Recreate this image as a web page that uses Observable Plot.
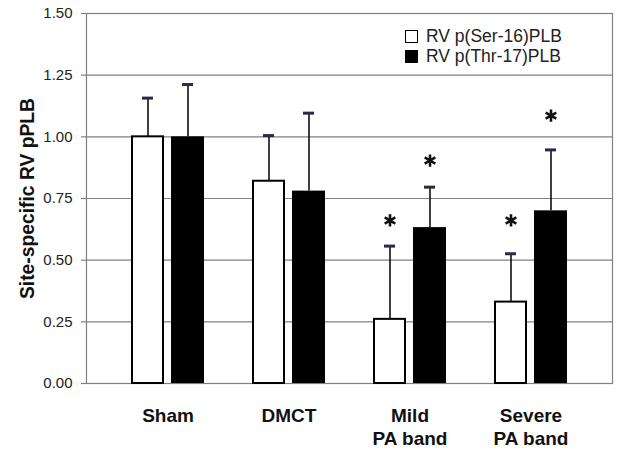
<!DOCTYPE html>
<html>
<head>
<meta charset="utf-8">
<script src="https://cdn.jsdelivr.net/npm/d3@7"></script>
<script src="https://cdn.jsdelivr.net/npm/@observablehq/plot@0.6"></script>
<style>
  body { margin: 0; background: #fff; }
  #wrap { position: relative; width: 633px; height: 453px; font-family: Arial, "Liberation Sans", sans-serif; }
  #legend { position: absolute; left: 405px; top: 26px; font-size: 17.5px; color: #222; line-height: 20px; }
  #legend .row { display: flex; align-items: center; height: 20px; }
  #legend .sw { width: 11px; height: 11px; border: 1.5px solid #000; margin-right: 8px; box-sizing: content-box; }
</style>
</head>
<body>
<div id="wrap"><div id="legend"></div></div>
<script>
const groups = ["Sham", "DMCT", "Mild\nPA band", "Severe\nPA band"];
const seriesNames = ["RV p(Ser-16)PLB", "RV p(Thr-17)PLB"];
const ser16 = [1.00, 0.82, 0.26, 0.33];
const ser16Upper = [1.157, 1.005, 0.557, 0.526];
const thr17 = [1.00, 0.78, 0.632, 0.70];
const thr17Upper = [1.212, 1.096, 0.796, 0.947];
const ser16Star = [null, null, 0.661, 0.661];
const thr17Star = [null, null, 0.904, 1.086];
const yTicks = [0, 0.25, 0.5, 0.75, 1.0, 1.25, 1.5];

const ser = groups.map((g, i) => ({group: g, value: ser16[i], upper: ser16Upper[i], star: ser16Star[i]}));
const thr = groups.map((g, i) => ({group: g, value: thr17[i], upper: thr17Upper[i], star: thr17Star[i]}));

const font = 'Arial, "Liberation Sans", sans-serif';
const capColor = "#2e2846";
const gridColor = "#808080";

const chart = Plot.plot({
  width: 633,
  height: 453,
  marginTop: 13,
  marginBottom: 70,
  marginLeft: 86,
  marginRight: 21,
  style: {fontFamily: font, background: "#fff", overflow: "visible"},
  x: {domain: groups, paddingInner: 0.343, paddingOuter: 0.333, align: 0.5},
  y: {domain: [0, 1.5]},
  marks: [
    Plot.ruleY(yTicks, {stroke: gridColor, strokeWidth: 1.2, strokeOpacity: 1}),
    Plot.frame({stroke: gridColor, strokeWidth: 1.2, strokeOpacity: 1}),
    Plot.axisY({ticks: yTicks, tickFormat: d3.format(".2f"), tickSize: 5, tickPadding: 9, stroke: gridColor, strokeWidth: 1.2, fontSize: 15, fill: "#222",
      label: "Site-specific RV pPLB", labelAnchor: "center", labelArrow: "none", labelOffset: 66}),
    Plot.axisX({tickSize: 0, tickPadding: 21, fontSize: 19, fontWeight: "bold", fill: "#111", lineHeight: 1.26, label: null}),
    // error bars (upper only)
    Plot.ruleX(ser, {x: "group", y1: "value", y2: "upper", dx: -20, stroke: "#000", strokeWidth: 1.5}),
    Plot.ruleX(thr, {x: "group", y1: "value", y2: "upper", dx: 20, stroke: "#000", strokeWidth: 1.5}),
    Plot.tickY(ser, {x: "group", y: "upper", insetLeft: 14, insetRight: 54, stroke: capColor, strokeWidth: 3}),
    Plot.tickY(thr, {x: "group", y: "upper", insetLeft: 54, insetRight: 14, stroke: capColor, strokeWidth: 3}),
    // bars
    Plot.barY(ser, {x: "group", y: "value", insetLeft: 4, insetRight: 44, fill: "#fff", stroke: "#000", strokeWidth: 2}),
    Plot.barY(thr, {x: "group", y: "value", insetLeft: 43, insetRight: 3, fill: "#000"}),
    // significance asterisks
    Plot.dot(ser.filter(d => d.star != null), {x: "group", y: "star", dx: -20, symbol: "asterisk", r: 5.8, stroke: "#111", strokeWidth: 2.6}),
    Plot.dot(thr.filter(d => d.star != null), {x: "group", y: "star", dx: 20, symbol: "asterisk", r: 5.8, stroke: "#111", strokeWidth: 2.6})
  ]
});

const y = chart.querySelector('[aria-label="y-axis label"] text');
if (y) { y.setAttribute("font-size", "19.3"); y.setAttribute("font-weight", "bold"); y.setAttribute("fill", "#111"); }

document.getElementById("wrap").prepend(chart);

const legend = document.getElementById("legend");
const swatchFills = ["#fff", "#000"];
seriesNames.forEach((name, i) => {
  const row = document.createElement("div");
  row.className = "row";
  const sw = document.createElement("span");
  sw.className = "sw";
  sw.style.background = swatchFills[i];
  const t = document.createElement("span");
  t.textContent = name;
  row.append(sw, t);
  legend.append(row);
});
</script>
</body>
</html>
